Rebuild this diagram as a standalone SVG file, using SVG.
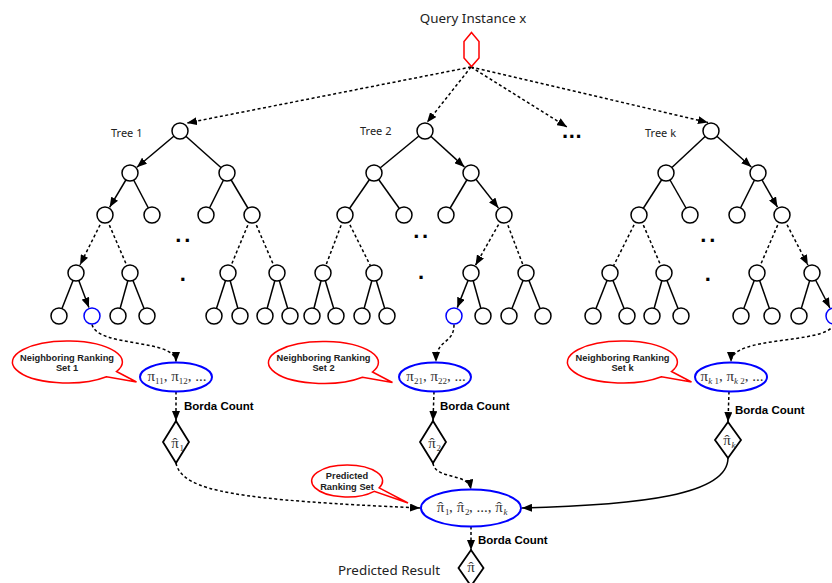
<svg xmlns="http://www.w3.org/2000/svg" xmlns:xlink="http://www.w3.org/1999/xlink" width="832" height="583" viewBox="0 0 832 583">
<style>
.node{fill:#fff;stroke:#000;stroke-width:1.5}
.sel{fill:#fff;stroke:#0000ff;stroke-width:1.5}
.e{fill:none;stroke:#000;stroke-width:1.5}
.d{stroke-dasharray:3 2.5}
.a{marker-end:url(#ah)}
.bell{fill:#fff;stroke:#0000ff;stroke-width:2}
.co{fill:#fff;stroke:#ff0000;stroke-width:1.5}
.dia{fill:#fff;stroke:#000;stroke-width:1.8}
.lab{font-family:"Noto Sans","Open Sans","DejaVu Sans",sans-serif;fill:#222}
.cot{font-family:"Liberation Sans",Arial,sans-serif;font-weight:bold;font-size:9.3px;fill:#222;text-anchor:middle}
.bc{font-family:"Liberation Sans",Arial,sans-serif;font-weight:bold;font-size:11.5px;fill:#000}
.m{font-family:"Liberation Serif","Times New Roman",serif;font-size:15px;fill:#333}
.c{text-anchor:middle}
.s{font-size:9px}
.i{font-style:italic}
.dots{font-family:"Liberation Sans",Arial,sans-serif;font-weight:bold;font-size:22px;fill:#000}
</style>
<defs>
<marker id="ah" markerUnits="userSpaceOnUse" markerWidth="10" markerHeight="8" refX="10" refY="4" orient="auto">
<path d="M0,0 L10,4 L0,8 Z" fill="#000" stroke="none"/>
</marker>
<path id="cop" d="M49,9.5 L69,20 L39,14.8 A55,21 0 1 1 49,9.5 Z"/>
</defs>

<g id="connectors">
<path class="e d a" d="M471,67 L187,123"/>
<path class="e d a" d="M471,67 L427,122.5"/>
<path class="e d a" d="M471,67 L567,127"/>
<path class="e d a" d="M471,67 L708,122.5"/>
<path class="e a" d="M180,131 L136.9,167.2"/>
<path class="e" d="M180,131 L227,173"/>
<path class="e a" d="M130,173 L109.6,207.3"/>
<path class="e" d="M130,173 L152,215"/>
<path class="e" d="M227,173 L206,215"/>
<path class="e" d="M227,173 L252,215"/>
<path class="e d a" d="M105,215 L80,264.9"/>
<path class="e d" d="M105,215 L130,273"/>
<path class="e d" d="M252,215 L228,273"/>
<path class="e d" d="M252,215 L277,273"/>
<path class="e" d="M76,273 L59,316"/>
<path class="e a" d="M76,273 L88.9,307.6"/>
<path class="e" d="M130,273 L118,316"/>
<path class="e" d="M130,273 L147,316"/>
<path class="e" d="M228,273 L214,316"/>
<path class="e" d="M228,273 L240,316"/>
<path class="e" d="M277,273 L265,316"/>
<path class="e" d="M277,273 L290,316"/>
<path class="e" d="M425,131 L374,173"/>
<path class="e a" d="M425,131 L464.4,166.9"/>
<path class="e" d="M374,173 L345,215"/>
<path class="e" d="M374,173 L404,215"/>
<path class="e" d="M471,173 L446,215"/>
<path class="e a" d="M471,173 L498.4,207.9"/>
<path class="e d" d="M345,215 L323,273"/>
<path class="e d" d="M345,215 L374,273"/>
<path class="e d a" d="M504,215 L475.5,265.2"/>
<path class="e d" d="M504,215 L526,273"/>
<path class="e" d="M323,273 L312,316"/>
<path class="e" d="M323,273 L336,316"/>
<path class="e" d="M374,273 L362,316"/>
<path class="e" d="M374,273 L387,316"/>
<path class="e a" d="M471,273 L457.3,307.6"/>
<path class="e" d="M471,273 L483,316"/>
<path class="e" d="M526,273 L509,316"/>
<path class="e" d="M526,273 L543,316"/>
<path class="e" d="M711,131 L666,173"/>
<path class="e a" d="M711,131 L751.3,167"/>
<path class="e" d="M666,173 L639,215"/>
<path class="e" d="M666,173 L690,215"/>
<path class="e" d="M758,173 L737,215"/>
<path class="e a" d="M758,173 L777.5,207.2"/>
<path class="e d" d="M639,215 L610,273"/>
<path class="e d" d="M639,215 L664,273"/>
<path class="e d" d="M782,215 L757,273"/>
<path class="e d a" d="M782,215 L807.9,265"/>
<path class="e" d="M610,273 L593,316"/>
<path class="e" d="M610,273 L627,316"/>
<path class="e" d="M664,273 L652,316"/>
<path class="e" d="M664,273 L681,316"/>
<path class="e" d="M757,273 L741,316"/>
<path class="e" d="M757,273 L772,316"/>
<path class="e" d="M812,273 L799,316"/>
<path class="e a" d="M812,273 L829.9,308"/>
<path class="e d a" d="M92,324.5 C98,348 176,338 176,362"/>
<path class="e d a" d="M454,324.5 C454,345 436,338 436,362"/>
<path class="e d a" d="M834,324.5 C825,345 731,335 731,362"/>
<path class="e d a" d="M176,391.5 L176,421"/>
<path class="e d a" d="M434,391.5 L433,421"/>
<path class="e d a" d="M729,391.5 L728,422"/>
<path class="e d a" d="M176,463 C182,492 240,500 420,508"/>
<path class="e d a" d="M433,463 C435,480 468,472 471,489.5"/>
<path class="e a" d="M728,458 C728,495 640,505 522,508"/>
<path class="e d a" d="M471,526.5 L471,550"/>
</g>

<g id="query">
<polygon points="471.5,32.5 479,41.5 479,58 471.5,66.5 464,58 464,41.5" fill="#fff" stroke="#ff0000" stroke-width="1.5"/>
<text class="lab" x="473" y="23" font-size="13.4" text-anchor="middle">Query Instance x</text>
</g>

<g id="tree1">
<text class="lab" x="111" y="137" font-size="11">Tree 1</text>
<circle class="node" cx="180" cy="131" r="8"/>
<circle class="node" cx="130" cy="173" r="8"/>
<circle class="node" cx="227" cy="173" r="8"/>
<circle class="node" cx="105" cy="215" r="8"/>
<circle class="node" cx="152" cy="215" r="8"/>
<circle class="node" cx="206" cy="215" r="8"/>
<circle class="node" cx="252" cy="215" r="8"/>
<circle class="node" cx="76" cy="273" r="8"/>
<circle class="node" cx="130" cy="273" r="8"/>
<circle class="node" cx="228" cy="273" r="8"/>
<circle class="node" cx="277" cy="273" r="8"/>
<circle class="node" cx="59" cy="316" r="8"/>
<circle class="sel" cx="92" cy="316" r="8"/>
<circle class="node" cx="118" cy="316" r="8"/>
<circle class="node" cx="147" cy="316" r="8"/>
<circle class="node" cx="214" cy="316" r="8"/>
<circle class="node" cx="240" cy="316" r="8"/>
<circle class="node" cx="265" cy="316" r="8"/>
<circle class="node" cx="290" cy="316" r="8"/>
<text class="dots" x="175.2" y="241.6" letter-spacing="3">..</text>
<text class="dots" x="182.7" y="280.6" text-anchor="middle">.</text>
</g>

<g id="tree2">
<text class="lab" x="360" y="134.5" font-size="11">Tree 2</text>
<circle class="node" cx="425" cy="131" r="8"/>
<circle class="node" cx="374" cy="173" r="8"/>
<circle class="node" cx="471" cy="173" r="8"/>
<circle class="node" cx="345" cy="215" r="8"/>
<circle class="node" cx="404" cy="215" r="8"/>
<circle class="node" cx="446" cy="215" r="8"/>
<circle class="node" cx="504" cy="215" r="8"/>
<circle class="node" cx="323" cy="273" r="8"/>
<circle class="node" cx="374" cy="273" r="8"/>
<circle class="node" cx="471" cy="273" r="8"/>
<circle class="node" cx="526" cy="273" r="8"/>
<circle class="node" cx="312" cy="316" r="8"/>
<circle class="node" cx="336" cy="316" r="8"/>
<circle class="node" cx="362" cy="316" r="8"/>
<circle class="node" cx="387" cy="316" r="8"/>
<circle class="sel" cx="454" cy="316" r="8"/>
<circle class="node" cx="483" cy="316" r="8"/>
<circle class="node" cx="509" cy="316" r="8"/>
<circle class="node" cx="543" cy="316" r="8"/>
<text class="dots" x="413.2" y="237.6" letter-spacing="2.6">..</text>
<text class="dots" x="421" y="278.6" text-anchor="middle">.</text>
</g>

<g id="more-trees">
<text class="dots" x="562" y="137.6" letter-spacing="0.6">...</text>
</g>

<g id="treek">
<text class="lab" x="645" y="136.5" font-size="11">Tree k</text>
<circle class="node" cx="711" cy="131" r="8"/>
<circle class="node" cx="666" cy="173" r="8"/>
<circle class="node" cx="758" cy="173" r="8"/>
<circle class="node" cx="639" cy="215" r="8"/>
<circle class="node" cx="690" cy="215" r="8"/>
<circle class="node" cx="737" cy="215" r="8"/>
<circle class="node" cx="782" cy="215" r="8"/>
<circle class="node" cx="610" cy="273" r="8"/>
<circle class="node" cx="664" cy="273" r="8"/>
<circle class="node" cx="757" cy="273" r="8"/>
<circle class="node" cx="812" cy="273" r="8"/>
<circle class="node" cx="593" cy="316" r="8"/>
<circle class="node" cx="627" cy="316" r="8"/>
<circle class="node" cx="652" cy="316" r="8"/>
<circle class="node" cx="681" cy="316" r="8"/>
<circle class="node" cx="741" cy="316" r="8"/>
<circle class="node" cx="772" cy="316" r="8"/>
<circle class="node" cx="799" cy="316" r="8"/>
<circle class="sel" cx="834" cy="316" r="8"/>
<text class="dots" x="700.2" y="241.6" letter-spacing="3">..</text>
<text class="dots" x="707.7" y="280.6" text-anchor="middle">.</text>
</g>

<g id="callout1">
<use xlink:href="#cop" href="#cop" class="co" transform="translate(67.5,362)"/>
<text class="cot" x="67" y="361">Neighboring Ranking</text>
<text class="cot" x="67" y="371">Set 1</text>
</g>
<g id="callout2">
<use xlink:href="#cop" href="#cop" class="co" transform="translate(323.5,362.5)"/>
<text class="cot" x="323.5" y="361">Neighboring Ranking</text>
<text class="cot" x="323.5" y="371">Set 2</text>
</g>
<g id="calloutk">
<use xlink:href="#cop" href="#cop" class="co" transform="translate(622.5,362)"/>
<text class="cot" x="622.5" y="361">Neighboring Ranking</text>
<text class="cot" x="622.5" y="371">Set k</text>
</g>
<g id="callout-pred">
<path class="co" d="M379.2,487.8 L408,503 L374.2,491.3 A35.5,16 0 1 1 379.2,487.8 Z"/>
<text class="cot" x="347" y="479">Predicted</text>
<text class="cot" x="347" y="489.5">Ranking Set</text>
</g>

<g id="set1">
<ellipse class="bell" cx="176" cy="377" rx="36" ry="14.5"/>
<text class="m c" x="177" y="381">π<tspan class="s" dy="3">11</tspan><tspan dy="-3">, π</tspan><tspan class="s" dy="3">12</tspan><tspan dy="-3">, ...</tspan></text>
</g>
<g id="set2">
<ellipse class="bell" cx="435" cy="377" rx="36" ry="14.5"/>
<text class="m c" x="436" y="381">π<tspan class="s" dy="3">21</tspan><tspan dy="-3">, π</tspan><tspan class="s" dy="3">22</tspan><tspan dy="-3">, ...</tspan></text>
</g>
<g id="setk">
<ellipse class="bell" cx="731" cy="377" rx="36" ry="14.5"/>
<text class="m c" x="732" y="381">π<tspan class="s" dy="3"><tspan class="i">k</tspan> 1</tspan><tspan dy="-3">, π</tspan><tspan class="s" dy="3"><tspan class="i">k</tspan> 2</tspan><tspan dy="-3">, ...</tspan></text>
</g>

<g id="borda1"><text class="bc" x="184" y="410">Borda Count</text></g>
<g id="borda2"><text class="bc" x="440" y="410">Borda Count</text></g>
<g id="bordak"><text class="bc" x="735" y="414">Borda Count</text></g>

<g id="result1">
<polygon class="dia" points="176,421 189,442 176,463 163,442"/>
<text class="m c" x="175" y="448">π</text>
<text class="m c" x="175" y="448">ˆ</text>
<text class="m s" x="179.5" y="451">1</text>
</g>
<g id="result2">
<polygon class="dia" points="433,421 446,442 433,463 420,442"/>
<text class="m c" x="432" y="448">π</text>
<text class="m c" x="432" y="448">ˆ</text>
<text class="m s" x="436.5" y="451">2</text>
</g>
<g id="resultk">
<polygon class="dia" points="728,422 741,440 728,458 715,440"/>
<text class="m c" x="727" y="445">π</text>
<text class="m c" x="727" y="445">ˆ</text>
<text class="m s i" x="731.5" y="448">k</text>
</g>

<g id="predicted-set">
<ellipse class="bell" cx="471" cy="508" rx="50" ry="18.5"/>
<text class="m c" x="440.5" y="512">π</text>
<text class="m c" x="440.5" y="512">ˆ</text>
<text class="m s" x="445" y="515">1</text>
<text class="m" x="449" y="512">,</text>
<text class="m c" x="460.5" y="512">π</text>
<text class="m c" x="460.5" y="512">ˆ</text>
<text class="m s" x="465" y="515">2</text>
<text class="m" x="469" y="512">, ..., </text>
<text class="m c" x="499" y="512">π</text>
<text class="m c" x="499" y="512">ˆ</text>
<text class="m s i" x="503.5" y="515">k</text>
</g>
<g id="borda-final"><text class="bc" x="478" y="544">Borda Count</text></g>

<g id="final-result">
<polygon class="dia" points="471,550 483.5,568 471,586 458.5,568"/>
<text class="m c" x="471" y="572">π</text>
<text class="m c" x="471" y="572">ˆ</text>
<text class="lab" x="389" y="575" font-size="13.4" text-anchor="middle">Predicted Result</text>
</g>
</svg>
